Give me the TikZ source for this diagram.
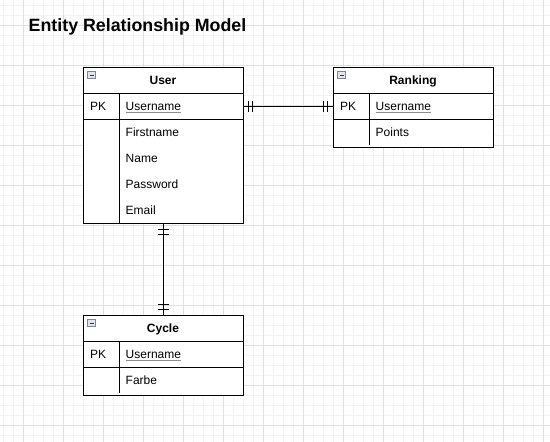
\documentclass[tikz,border=0pt]{standalone}
\usepackage{fontspec}
\setmainfont{Liberation Sans}
\usetikzlibrary{calc}
\definecolor{gridminor}{HTML}{F4F4F4}
\definecolor{gridmajor}{HTML}{E0E0E0}
\definecolor{iconfill}{HTML}{E2E5EE}
\definecolor{iconborder}{HTML}{7F8590}
\definecolor{ulgray}{HTML}{8C8C8C}
\newcommand\mycollapse[1]{%
  \draw[iconborder, fill=iconfill, line width=0.8pt] ($(#1.north west)+(5,4.5)$) rectangle ++(7.5,7.5);
  \draw[black!80, line width=1pt] ($(#1.north west)+(6.8,8.25)$) -- ++(4,0);
}
\begin{document}
\begin{tikzpicture}[x=1pt,y=-1pt,
  tbl/.style={draw=black, line width=1pt, fill=white, inner sep=0pt},
  rowbox/.style={inner sep=0pt, minimum width=160pt, minimum height=26pt},
  hdr/.style={font=\fontsize{12}{14}\selectfont\bfseries, anchor=base, inner sep=0pt},
  fld/.style={font=\fontsize{12}{14}\selectfont, anchor=base west, inner sep=0pt},
  sepline/.style={line width=1pt, black},
  conn/.style={line width=1pt, black},
  ticks/.style={line width=1pt, black},
  ul/.style={ulgray, line width=0.8pt},
]
\useasboundingbox (0,0) rectangle (550,442);
\fill[white] (0,0) rectangle (550,442);
% grid
\foreach \x in {3,13,...,543} \draw[gridminor, line width=1pt] (\x,0) -- (\x,442);
\foreach \y in {5,15,...,435} \draw[gridminor, line width=1pt] (0,\y) -- (550,\y);
\foreach \x in {23,63,...,543} \draw[gridmajor, line width=1pt] (\x,0) -- (\x,442);
\foreach \y in {25,65,...,425} \draw[gridmajor, line width=1pt] (0,\y) -- (550,\y);

% title
\node[font=\fontsize{17.8}{20}\selectfont\bfseries, anchor=base west, inner sep=0pt] (title) at (28.5,31) {Entity Relationship Model};

% ---------- User ----------
\node[tbl, minimum width=160pt, minimum height=156pt] (user) at (163,145) {};
\node[rowbox] (userhead) at (163,80) {};
\node[rowbox] (userpk) at (163,106) {};
\draw[sepline] (userhead.south west) -- (userhead.south east);
\draw[sepline] (userpk.south west) -- (userpk.south east);
\draw[sepline] (119,93) -- (119,223);
\mycollapse{userhead}
\node[hdr] (userT) at (163,84.5) {User};
\node[fld] (userPK) at (90,110.5) {PK};
\node[fld] (userU) at (125.5,110.5) {Username};
\draw[ul] (userU.base west) ++(0,2) -- ($(userU.base east)+(0,2)$);
\node[fld] (userF) at (125.5,136.5) {Firstname};
\node[fld] (userN) at (125.5,162.5) {Name};
\node[fld] (userP) at (125.5,188.5) {Password};
\node[fld] (userE) at (125.5,214.5) {Email};

% ---------- Ranking ----------
\node[tbl, minimum width=160pt, minimum height=80pt] (rank) at (413,107) {};
\node[rowbox] (rankhead) at (413,80) {};
\node[rowbox] (rankpk) at (413,106) {};
\draw[sepline] (rankhead.south west) -- (rankhead.south east);
\draw[sepline] (rankpk.south west) -- (rankpk.south east);
\draw[sepline] (369,93) -- (369,145);
\mycollapse{rankhead}
\node[hdr] (rankT) at (413,84.5) {Ranking};
\node[fld] (rankPK) at (340,110.5) {PK};
\node[fld] (rankU) at (375.5,110.5) {Username};
\draw[ul] (rankU.base west) ++(0,2) -- ($(rankU.base east)+(0,2)$);
\node[fld] (rankP) at (375.5,136.5) {Points};

% ---------- Cycle ----------
\node[tbl, minimum width=160pt, minimum height=80pt] (cycle) at (163,355) {};
\node[rowbox] (cyclehead) at (163,328) {};
\node[rowbox] (cyclepk) at (163,354) {};
\draw[sepline] (cyclehead.south west) -- (cyclehead.south east);
\draw[sepline] (cyclepk.south west) -- (cyclepk.south east);
\draw[sepline] (119,341) -- (119,393);
\mycollapse{cyclehead}
\node[hdr] (cycleT) at (163,332.5) {Cycle};
\node[fld] (cyclePK) at (90,358.5) {PK};
\node[fld] (cycleU) at (125.5,358.5) {Username};
\draw[ul] (cycleU.base west) ++(0,2) -- ($(cycleU.base east)+(0,2)$);
\node[fld] (cycleF) at (125.5,384.5) {Farbe};

% ---------- connectors ----------
\draw[conn] (userpk.east) -- (rankpk.west);
\draw[ticks] ($(userpk.east)+(5.5,-5.5)$) -- ++(0,11);
\draw[ticks] ($(userpk.east)+(9.5,-5.5)$) -- ++(0,11);
\draw[ticks] ($(rankpk.west)+(-5.5,-5.5)$) -- ++(0,11);
\draw[ticks] ($(rankpk.west)+(-9.5,-5.5)$) -- ++(0,11);

\draw[conn] (user.south) -- (cycle.north);
\draw[ticks] ($(user.south)+(-5.5,6)$) -- ++(11,0);
\draw[ticks] ($(user.south)+(-5.5,10.5)$) -- ++(11,0);
\draw[ticks] ($(cycle.north)+(-5.5,-5.5)$) -- ++(11,0);
\draw[ticks] ($(cycle.north)+(-5.5,-10)$) -- ++(11,0);
\end{tikzpicture}
\end{document}
